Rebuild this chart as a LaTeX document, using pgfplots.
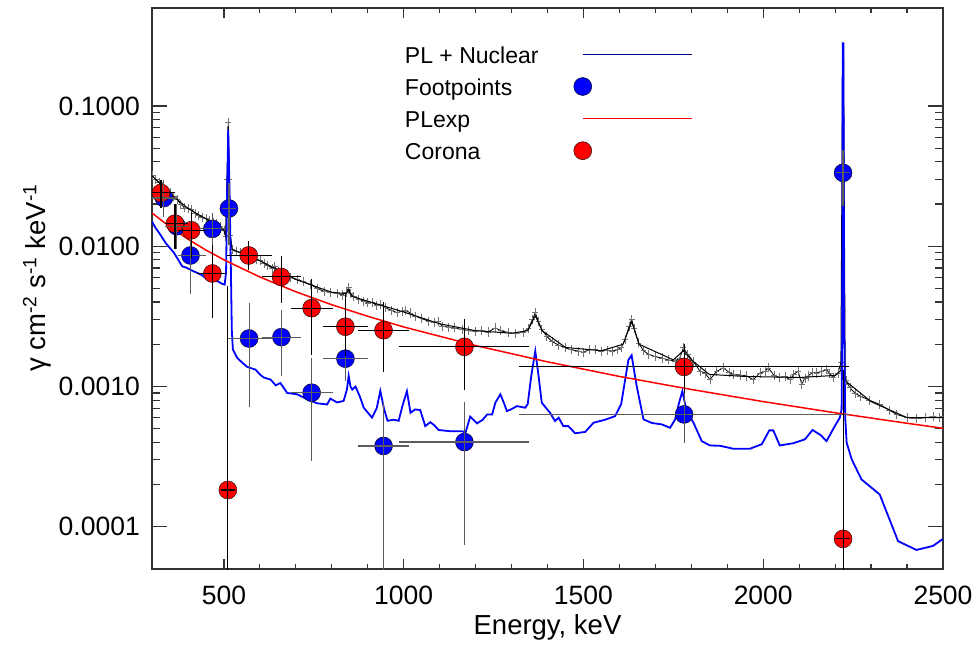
\documentclass[border=0pt]{standalone}
\usepackage{fontspec}
\setmainfont{Liberation Sans}
\usepackage{pgfplots}
\pgfplotsset{compat=1.18}
\usepackage{pgfplotstable}

\definecolor{legnavy}{rgb}{0,0,0.55}
\definecolor{errgray}{gray}{0.36}

% legend swatches: a long line, or a filled disc
\pgfplotsset{
  leg line/.style={legend image code/.code={%
    \path[draw=none, fill=none] (0bp,-6bp) rectangle (1bp,12bp);
    \draw[##1] (0bp,3bp) -- (109bp,3bp);}},
  leg disc/.style={legend image code/.code={%
    \fill[##1] (0bp,3bp) circle (9bp);}},
}

% Corona (red): energy, flux, bin half-widths, flux errors
\pgfplotstableread{
E     y        xm   xp   ym        yp
325   0.0240   25   25   0.0035    0.0035
364   0.0145   14   21   0.0042    0.0040
409   0.0130   24   26   0.0040    0.0031
468   0.0064   28   27   0.00304   0.00298
511   0.000183 5    5    0.000182  0.004617
569   0.0086   46   51   0.0013    0.0014
659   0.00605  39   41   0.00177   0.00175
744   0.00362  44   46   0.00181   0.0018
838   0.00267  48   49   0.00087   0.00163
944   0.00252  57   56   0.00115   0.00116
1169  0.00192  169  167  0.0009    0.00089
1780  0.00138  444  445  0.0004    0.00047
2222  0.000082 6    6    0.000081  0.00112
}\corona

% Footpoints (blue)
\pgfplotstableread{
E     y        xm   xp   ym        yp
333   0.0221   23   22   0.0046    0.0054
369   0.0139   19   21   0.0036    0.0046
407   0.0086   22   28   0.0036    0.0019
468   0.0133   24   25   0.0023    0.0027
514   0.0186   5    5    0.0076    0.0074
570   0.0022   47   50   0.00143   0.00144
660   0.00225  40   40   0.00096   0.00098
744   0.000904 44   46   0.000585  0.000576
838   0.00158  48   49   0.00039   0.00052
944   0.000377 57   56   0.000376  0.000336
1169  0.000402 169  167  0.000322  0.000316
1780  0.000633 444  445  0.000202  0.000212
2222  0.0334   6    6    0.0124    0.0116
}\foot

% PL + Nuclear: measured spectrum
\pgfplotstableread{
E y
300 0.0320
310 0.0300
320 0.0285
330 0.0268
340 0.0252
350 0.0240
360 0.0228
370 0.0215
380 0.0200
390 0.0188
400 0.0187
410 0.0183
420 0.0172
430 0.0165
440 0.0160
450 0.0158
460 0.0153
470 0.0148
480 0.0146
490 0.0138
500 0.0130
505 0.0118
509 0.030
512 0.076
515 0.030
518 0.0120
523 0.0095
535 0.0092
546 0.0090
560 0.0087
574 0.0085
590 0.0081
600 0.0079
611 0.0076
622 0.0073
634 0.0070
641 0.0072
650 0.0066
667 0.0062
685 0.0060
704 0.0058
720 0.0056
741 0.00534
760 0.0050
778 0.00478
795 0.00470
815 0.00461
830 0.00450
840 0.00470
847 0.00506
852 0.0046
861 0.0044
875 0.00420
889 0.00406
900 0.00395
912 0.00398
925 0.00380
935 0.00384
950 0.00365
965 0.00350
982 0.00336
995 0.00345
1005 0.0035
1018 0.00335
1032 0.00318
1050 0.00305
1069 0.00293
1085 0.00285
1095 0.00290
1107 0.0027
1125 0.00265
1140 0.00262
1162 0.00255
1180 0.00250
1199 0.00248
1215 0.00252
1235 0.00245
1255 0.00262
1270 0.00250
1292 0.00242
1310 0.00238
1333 0.00244
1347 0.00260
1358 0.0030
1366 0.00336
1375 0.0029
1384 0.00255
1398 0.00228
1412 0.0021
1430 0.00198
1449 0.00189
1465 0.00183
1486 0.00179
1500 0.00175
1515 0.00183
1532 0.00184
1550 0.00178
1565 0.00182
1579 0.00179
1595 0.00183
1605 0.0019
1616 0.00216
1627 0.0027
1634 0.00301
1641 0.0026
1653 0.00205
1667 0.00180
1681 0.0017
1700 0.00163
1718 0.0016
1735 0.00155
1755 0.00152
1768 0.00160
1778 0.00189
1790 0.00170
1806 0.00150
1824 0.00129
1838 0.00125
1852 0.00112
1870 0.00128
1889 0.00136
1905 0.00126
1917 0.00122
1935 0.00121
1954 0.00119
1972 0.00112
1991 0.00125
2005 0.00128
2014 0.00136
2030 0.00120
2046 0.00116
2060 0.00118
2074 0.00112
2085 0.00122
2097 0.00129
2107 0.00104
2116 0.00115
2125 0.00119
2137 0.00126
2148 0.00125
2162 0.00128
2176 0.00132
2185 0.00124
2194 0.00116
2208 0.00125
2216 0.00148
2230 0.0011
2241 0.00098
2255 0.00090
2269 0.000855
2295 0.00080
2324 0.000746
2350 0.00068
2371 0.000633
2400 0.00060
2426 0.00059
2450 0.000600
2472 0.00061
2490 0.00060
2500 0.00061
}\spec

% PL + Nuclear: model curve
\pgfplotstableread{
E y
300 0.0318
350 0.0238
400 0.0186
450 0.0157
500 0.0130
505 0.0118
509 0.030
512 0.072
515 0.030
518 0.0115
523 0.0095
600 0.0079
700 0.0058
800 0.0047
840 0.0046
847 0.0049
855 0.0044
1000 0.0034
1100 0.0028
1200 0.00250
1300 0.00240
1345 0.0025
1366 0.0032
1385 0.0025
1450 0.00190
1550 0.00180
1610 0.0020
1634 0.0029
1655 0.0020
1750 0.00155
1778 0.0018
1800 0.00155
1850 0.00122
1950 0.00118
2100 0.00116
2200 0.00120
2216 0.0013
2221 0.28
2223 0.28
2228 0.0011
2300 0.00078
2400 0.00060
2500 0.00060
}\model

% Footpoint nuclear model
\pgfplotstableread{
E y
300 0.0150
310 0.0135
320 0.01245
338 0.01056
350 0.0097
361 0.0090
372 0.0081
384 0.0072
398 0.0070
412 0.0067
426 0.00646
440 0.0062
454 0.0058
468 0.0057
482 0.00564
495 0.0054
502 0.00533
506 0.0065
509 0.025
512 0.0678
515 0.030
519 0.008
522 0.0025
525 0.00184
537 0.0016
551 0.00148
565 0.00138
588 0.00132
600 0.00122
611 0.00116
630 0.00112
644 0.00102
657 0.00106
676 0.00090
704 0.00088
732 0.00081
759 0.00076
787 0.000745
796 0.00082
815 0.00077
833 0.00079
842 0.00095
847 0.00119
852 0.00100
857 0.00095
866 0.00100
878 0.00085
889 0.000706
912 0.00060
925 0.00070
935 0.00093
945 0.00070
955 0.00057
972 0.00058
986 0.00057
998 0.00075
1009 0.000927
1019 0.00065
1032 0.000687
1046 0.00068
1060 0.000522
1074 0.000557
1085 0.00053
1097 0.00049
1130 0.00048
1162 0.00048
1172 0.00047
1185 0.00061
1204 0.000546
1220 0.00058
1232 0.000632
1246 0.000632
1255 0.000767
1269 0.00088
1280 0.00075
1287 0.000668
1300 0.00069
1315 0.000725
1338 0.000706
1345 0.00075
1355 0.00120
1366 0.00179
1375 0.00120
1384 0.000767
1407 0.00065
1421 0.000567
1431 0.00060
1444 0.000522
1458 0.000522
1477 0.000464
1505 0.000475
1528 0.000552
1560 0.00058
1588 0.000615
1605 0.00075
1616 0.00112
1625 0.00155
1634 0.00167
1642 0.00125
1648 0.00101
1667 0.000583
1690 0.00055
1718 0.000537
1741 0.000508
1755 0.000583
1765 0.00075
1775 0.000927
1787 0.000668
1806 0.000552
1829 0.000408
1852 0.00038
1880 0.000378
1917 0.00036
1963 0.00036
1996 0.000388
2017 0.000487
2028 0.000487
2046 0.00038
2083 0.000394
2116 0.00042
2137 0.00049
2160 0.00045
2176 0.000408
2199 0.000522
2213 0.0006
2218 0.000687
2220 0.0030
2221 0.28
2223 0.28
2225 0.0030
2228 0.0006
2232 0.000398
2246 0.000303
2273 0.000218
2324 0.00017
2375 0.000079
2426 0.0000684
2472 0.000073
2500 0.000082
}\nuc

% PLexp fit
\pgfplotstableread{
E y
300 0.01730
350 0.01373
400 0.01124
450 0.00940
500 0.00801
600 0.00604
700 0.00474
800 0.00383
900 0.00317
1000 0.00266
1200 0.00196
1400 0.00150
1600 0.00118
1800 0.000953
2000 0.000781
2200 0.000650
2400 0.000547
2500 0.000504
}\plexp

\begin{document}
\begin{tikzpicture}
\path[use as bounding box] (-152bp,-77bp) rectangle (827bp,569bp);
\begin{axis}[
  scale only axis,
  width=791bp, height=561bp,
  clip mode=individual,
  xmin=300, xmax=2500,
  ymode=log, ymin=5e-5, ymax=0.5,
  xtick={500,1000,1500,2000,2500},
  xticklabels={500,1000,1500,2000,2500},
  minor x tick num=4,
  ytick={1e-4,1e-3,1e-2,1e-1},
  yticklabels={0.0001,0.0010,0.0100,0.1000},
  axis line style={black!80, line width=1.3bp},
  every tick/.style={black!80, line width=1.2bp},
  xtick style={/pgfplots/major tick length=10bp, /pgfplots/minor tick length=5bp},
  ytick style={/pgfplots/major tick length=15bp, /pgfplots/minor tick length=8bp},
  /pgf/number format/assume math mode=true,
  tick label style={font=\fontsize{26.5bp}{30bp}\selectfont},
  xticklabel style={anchor=base, yshift=-35bp, inner sep=0pt},
  yticklabel style={anchor=east, inner sep=0pt, xshift=-12bp},
  xlabel={Energy, keV},
  ylabel={γ cm\textsuperscript{-2} s\textsuperscript{-1} keV\textsuperscript{-1}},
  every axis x label/.style={at={(axis description cs:0.5,0)}, anchor=base, yshift=-65bp,
    font=\fontsize{27.5bp}{31bp}\selectfont},
  every axis y label/.style={at={(axis description cs:-0.1454,0.519)}, anchor=center, rotate=90,
    font=\fontsize{27.5bp}{31bp}\selectfont},
  legend plot pos=right,
  legend cell align=left,
  legend style={draw=none, fill=none, inner sep=0pt, outer sep=0pt,
    at={(axis description cs:0.3198,0.9335)}, anchor=north west,
    font=\fontsize{23bp}{26bp}\selectfont,
    row sep=9bp, column sep=35bp,
    nodes={inner sep=0pt, text height=17bp, text depth=5bp}},
]
% measured spectrum with small error crosses, and its model
\addplot[black, line width=0.8bp, forget plot,
  error bars/.cd, y dir=both, y fixed relative=0.05, x dir=both, x fixed=4,
  error bar style={black!55, line width=0.6bp},
  error mark options={mark size=1.5bp, line width=0.6bp}]
  table[x=E, y=y]{\spec};
\addplot[black, line width=1bp, forget plot] table[x=E, y=y]{\model};
% nuclear line model for the footpoints
\addplot[blue, line width=1.8bp, forget plot] table[x=E, y=y]{\nuc};
% PLexp fit
\addplot[red, line width=1.5bp, forget plot] table[x=E, y=y]{\plexp};
% flux points
\addplot[only marks, mark=*, mark size=9bp, mark options={draw=none, fill=blue}, forget plot]
  table[x=E, y=y]{\foot};
\addplot[only marks, mark=*, mark size=9bp, mark options={draw=none, fill=red}, forget plot]
  table[x=E, y=y]{\corona};
\addplot[draw=none, mark=none, forget plot,
  error bars/.cd, x dir=both, y dir=both, x explicit, y explicit,
  error bar style={draw=errgray, line width=1.15bp},
  error mark options={draw=errgray, mark size=5bp, line width=1.15bp}]
  table[x=E, y=y, x error plus=xp, x error minus=xm, y error plus=yp, y error minus=ym]{\foot};
\addplot[draw=none, mark=none, forget plot,
  error bars/.cd, x dir=both, y dir=both, x explicit, y explicit,
  error bar style={draw=black, line width=1.05bp},
  error mark options={draw=black, mark size=5bp, line width=1.05bp}]
  table[x=E, y=y, x error plus=xp, x error minus=xm, y error plus=yp, y error minus=ym]{\corona};

\addlegendimage{leg line, draw=legnavy, line width=1bp}
\addlegendentry{PL + Nuclear}
\addlegendimage{leg disc, fill=blue}
\addlegendentry{Footpoints}
\addlegendimage{leg line, draw=red, line width=1bp}
\addlegendentry{PLexp}
\addlegendimage{leg disc, fill=red}
\addlegendentry{Corona}
\end{axis}
\end{tikzpicture}
\end{document}
